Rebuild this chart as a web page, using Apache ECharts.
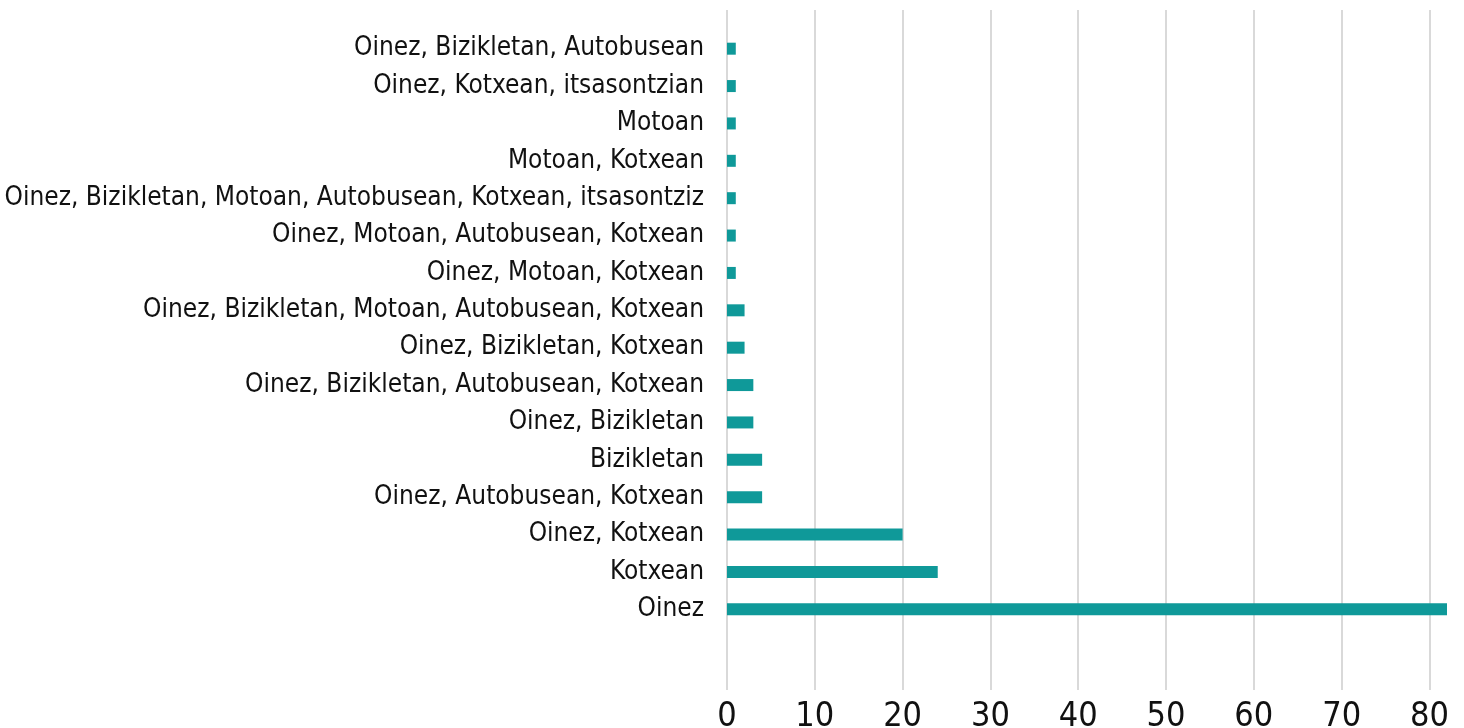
<!DOCTYPE html>
<html>
<head>
<meta charset="utf-8">
<script src="https://cdn.jsdelivr.net/npm/echarts@6/dist/echarts.min.js"></script>
<style>
  html, body {margin: 0; padding: 0; background: #fff;}
  #chart {width: 1464px; height: 728px;}
</style>
</head>
<body>
<div id="chart"></div>
<script>
// bottom to top, as ECharts draws a category y axis
const categories = [
    'Oinez',
    'Kotxean',
    'Oinez, Kotxean',
    'Oinez, Autobusean, Kotxean',
    'Bizikletan',
    'Oinez, Bizikletan',
    'Oinez, Bizikletan, Autobusean, Kotxean',
    'Oinez, Bizikletan, Kotxean',
    'Oinez, Bizikletan, Motoan, Autobusean, Kotxean',
    'Oinez, Motoan, Kotxean',
    'Oinez, Motoan, Autobusean, Kotxean',
    'Oinez, Bizikletan, Motoan, Autobusean, Kotxean, itsasontziz',
    'Motoan, Kotxean',
    'Motoan',
    'Oinez, Kotxean, itsasontzian',
    'Oinez, Bizikletan, Autobusean',
]
const values = [82, 24, 20, 4, 4, 3, 3, 2, 2, 1, 1, 1, 1, 1, 1, 1]
const xMax = 82
const xStep = 10

const font = '"Liberation Sans Narrow", "Arial Narrow", "DejaVu Sans Condensed", sans-serif'

const chart = echarts.init(document.getElementById('chart'))

chart.setOption({
    animation: false,
    backgroundColor: '#fff',
    grid: [
        // bars
        {left: 727, right: 17, top: 30, bottom: 100, outerBoundsMode: 'none', containLabel: false},
        // gridlines and value labels
        {left: 727, right: 17, top: 10, bottom: 38, outerBoundsMode: 'none', containLabel: false},
    ],
    xAxis: [
        {
            gridIndex: 0,
            type: 'value',
            min: 0,
            max: xMax,
            interval: xStep,
            show: false,
        },
        {
            gridIndex: 1,
            type: 'value',
            min: 0,
            max: xMax,
            interval: xStep,
            axisLine: {show: false},
            axisTick: {show: false},
            splitLine: {
                show: true,
                showMaxLine: false,
                lineStyle: {color: '#d9d9d9', width: 2},
            },
            axisLabel: {
                showMaxLabel: false,
                margin: 10,
                color: '#111',
                fontSize: 34,
                fontFamily: font,
            },
        },
    ],
    yAxis: [
        {
            gridIndex: 0,
            type: 'category',
            data: categories,
            axisLine: {show: false},
            axisTick: {show: false},
            splitLine: {show: false},
            axisLabel: {
                margin: 23,
                color: '#111',
                fontSize: 26,
                fontFamily: font,
                padding: [8, 0, 0, 0],
            },
        },
        {
            gridIndex: 1,
            type: 'value',
            show: false,
        },
    ],
    series: [
        {
            type: 'bar',
            xAxisIndex: 0,
            yAxisIndex: 0,
            data: values,
            barWidth: 12,
            itemStyle: {color: '#0f9999'},
        },
    ],
})
</script>
</body>
</html>
